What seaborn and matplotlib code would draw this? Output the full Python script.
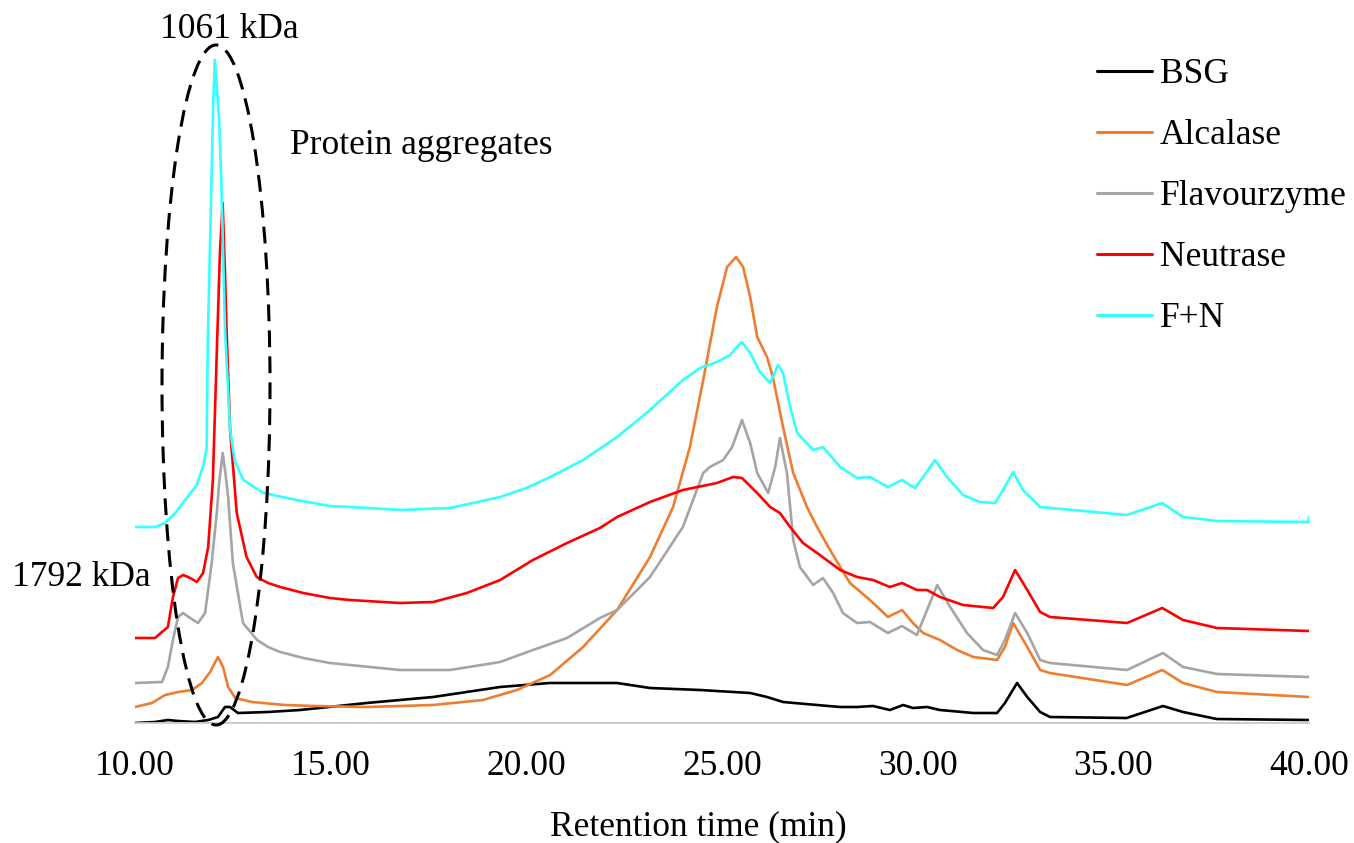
import numpy as np
import pandas as pd
import matplotlib
matplotlib.use("Agg")
import matplotlib.pyplot as plt
from matplotlib.patches import Ellipse
import seaborn as sns

# ---------------- data ----------------
samples = ["BSG", "Alcalase", "Flavourzyme", "Neutrase", "F+N"]
colors = ["#000000", "#ED7D31", "#A5A5A5", "#FF0000", "#33FFFF"]

bsg_time = [10.00, 10.51, 10.84, 11.10, 11.53, 11.87, 12.12, 12.30, 12.43, 12.63,
            13.40, 14.22, 15.92, 17.62, 19.33, 20.60, 21.88, 22.32, 23.16, 24.44,
            25.72, 26.15, 26.56, 27.43, 28.02, 28.44, 28.86, 29.29, 29.63, 29.88,
            30.24, 30.57, 31.42, 32.03, 32.23, 32.54, 32.80, 33.13, 33.38, 35.34,
            36.27, 36.78, 37.64, 39.98]
bsg_signal = [0, 1, 3, 2, 1, 3, 6, 16, 16, 10,
              11, 13, 20, 26, 36, 40, 40, 40, 35, 33,
              30, 26, 21, 18, 16, 16, 17, 13, 18, 15,
              16, 13, 10, 10, 20, 40, 26, 11, 6, 5,
              17, 11, 4, 3]

alcalase_time = [10.00, 10.43, 10.77, 11.10, 11.46, 11.71, 11.92, 12.12, 12.25, 12.38,
                 12.56, 12.99, 13.83, 14.60, 15.93, 17.62, 18.89, 19.76, 20.61, 21.45,
                 22.32, 23.16, 23.75, 24.18, 24.52, 24.87, 25.13, 25.36, 25.54, 25.72,
                 25.90, 26.15, 26.30, 26.56, 26.82, 27.17, 27.43, 27.76, 28.27, 28.78,
                 29.24, 29.60, 29.88, 30.14, 30.57, 31.01, 31.42, 32.03, 32.23, 32.44,
                 32.80, 33.13, 33.38, 35.35, 36.25, 36.78, 37.65, 40.00]
alcalase_signal = [16, 20, 28, 31, 33, 40, 51, 66, 56, 36,
                   25, 21, 18, 17, 16, 18, 23, 33, 48, 76,
                   113, 166, 216, 276, 343, 416, 456, 466, 456, 426,
                   386, 366, 346, 296, 250, 216, 196, 173, 140, 123,
                   106, 113, 100, 90, 83, 73, 66, 63, 76, 100,
                   76, 53, 50, 38, 53, 40, 31, 26]

flavourzyme_time = [10.00, 10.69, 10.84, 10.97, 11.10, 11.23, 11.41, 11.61, 11.79, 11.96,
                    12.09, 12.15, 12.24, 12.31, 12.38, 12.50, 12.76, 13.12, 13.40, 13.71,
                    14.30, 14.98, 16.77, 18.05, 19.33, 20.17, 21.04, 21.88, 22.32, 23.16,
                    24.00, 24.52, 24.69, 25.03, 25.26, 25.51, 25.72, 25.90, 26.18, 26.36,
                    26.48, 26.66, 26.82, 26.99, 27.33, 27.58, 27.84, 28.09, 28.45, 28.78,
                    29.24, 29.60, 29.98, 30.24, 30.50, 30.83, 31.26, 31.67, 32.03, 32.23,
                    32.49, 32.80, 33.13, 33.38, 35.35, 36.27, 36.78, 37.65, 40.00]
flavourzyme_signal = [40, 41, 56, 83, 106, 110, 105, 100, 110, 160,
                      210, 240, 270, 250, 226, 160, 100, 83, 76, 71,
                      65, 60, 53, 53, 61, 73, 85, 105, 113, 146,
                      196, 250, 256, 263, 276, 303, 280, 250, 230, 256,
                      285, 250, 183, 156, 138, 145, 130, 110, 100, 101,
                      90, 97, 88, 113, 138, 116, 90, 73, 68, 83,
                      110, 90, 63, 60, 53, 70, 56, 49, 46]

neutrase_time = [10.00, 10.51, 10.84, 10.97, 11.10, 11.23, 11.41, 11.58, 11.74, 11.87,
                 11.99, 12.10, 12.17, 12.24, 12.30, 12.34, 12.43, 12.60, 12.85, 13.11,
                 13.40, 13.71, 14.30, 14.98, 15.49, 16.77, 17.62, 18.48, 19.33, 20.17,
                 21.04, 21.88, 22.32, 23.16, 24.00, 24.87, 25.28, 25.51, 25.90, 26.23,
                 26.48, 26.74, 27.07, 27.43, 28.02, 28.45, 28.86, 29.29, 29.60, 29.98,
                 30.24, 30.57, 31.16, 31.93, 32.18, 32.49, 32.80, 33.13, 33.38, 35.35,
                 36.25, 36.78, 37.65, 40.00]
neutrase_signal = [85, 85, 96, 126, 145, 148, 145, 141, 150, 176,
                   243, 383, 470, 520, 450, 393, 293, 210, 166, 146,
                   140, 136, 130, 125, 123, 120, 121, 130, 143, 163,
                   180, 195, 206, 221, 233, 240, 246, 245, 230, 216,
                   210, 196, 180, 170, 153, 146, 143, 136, 140, 133,
                   133, 126, 118, 115, 126, 153, 133, 111, 106, 100,
                   115, 103, 95, 92]

fn_time = [10.00, 10.51, 10.77, 11.03, 11.28, 11.58, 11.75, 11.83, 11.86, 11.95,
           12.00, 12.04, 12.15, 12.21, 12.30, 12.43, 12.55, 12.77, 13.28, 14.13,
           14.98, 16.00, 16.77, 18.05, 19.33, 20.00, 20.61, 21.45, 22.32, 23.16,
           24.00, 24.44, 24.87, 25.21, 25.38, 25.51, 25.72, 25.97, 26.23, 26.43,
           26.56, 26.74, 26.92, 27.33, 27.58, 28.02, 28.45, 28.78, 29.24, 29.60,
           29.93, 30.14, 30.44, 30.75, 31.16, 31.59, 31.98, 32.18, 32.44, 32.69,
           33.13, 35.35, 36.25, 36.78, 37.65, 39.98, 40.00]
fn_signal = [196, 196, 200, 210, 223, 238, 258, 275, 383, 536,
             620, 663, 603, 536, 393, 293, 262, 243, 230, 223,
             217, 215, 213, 215, 226, 235, 246, 263, 286, 313,
             343, 355, 361, 368, 376, 381, 370, 351, 340, 358,
             350, 316, 290, 273, 276, 256, 245, 246, 236, 243,
             235, 246, 263, 246, 228, 221, 220, 233, 251, 233,
             216, 208, 220, 206, 202, 201, 206]

x_ticks = [10, 15, 20, 25, 30, 35, 40]
x_label = "Retention time (min)"
annotations = ["1061 kDa", "Protein aggregates", "1792 kDa"]

# ---------------- build long-form table ----------------
series = {
    "BSG": (bsg_time, bsg_signal),
    "Alcalase": (alcalase_time, alcalase_signal),
    "Flavourzyme": (flavourzyme_time, flavourzyme_signal),
    "Neutrase": (neutrase_time, neutrase_signal),
    "F+N": (fn_time, fn_signal),
}
frames = []
for name, (t, s) in series.items():
    frames.append(pd.DataFrame({"time": t, "signal": s, "sample": name}))
df = pd.concat(frames, ignore_index=True)

# ---------------- plot ----------------
sns.set_style("white")
plt.rcParams["font.family"] = ["Liberation Serif", "DejaVu Serif"]
plt.rcParams["text.color"] = "black"
plt.rcParams["xtick.color"] = "black"
plt.rcParams["axes.labelcolor"] = "black"
FS = 25.5

W, H = 1354, 843
fig = plt.figure(figsize=(W / 100, H / 100), dpi=100)
ax = fig.add_axes([135 / W, 1 - 723 / H, 1174 / W, 700 / H])

sns.lineplot(data=df, x="time", y="signal", hue="sample", hue_order=samples,
             palette=dict(zip(samples, colors)), estimator=None, sort=True,
             linewidth=1.9, ax=ax, legend=True)

ax.set_xlim(10, 40)
ax.set_ylim(0, 700)

for side in ["top", "right", "left"]:
    ax.spines[side].set_visible(False)
ax.spines["bottom"].set_color("#C8C8C8")
ax.spines["bottom"].set_linewidth(1.3)
ax.set_yticks([])
ax.set_ylabel("")
ax.set_xticks(x_ticks)
ax.set_xticklabels([f"{v:.2f}" for v in x_ticks], fontsize=FS, color="black")
ax.tick_params(axis="x", length=0, pad=19.5)
ax.set_xlabel(x_label, fontsize=FS, color="black")
ax.xaxis.set_label_coords(0.480, -(827 - 723) / 700)
ax.xaxis.label.set_verticalalignment("center")

# dashed ellipse around aggregate peaks
ell = Ellipse((12.07, 338), 2.76, 680, fill=False, edgecolor="black",
              linewidth=2.2, linestyle=(0, (5.5, 3.0)), clip_on=False, zorder=5)
ax.add_patch(ell)

ax.text(12.40, 694, annotations[0], fontsize=FS, ha="center", va="center")
ax.text(13.96, 578, annotations[1], fontsize=FS, ha="left", va="center")
ax.text(6.86, 145, annotations[2], fontsize=FS, ha="left", va="center",
        clip_on=False)

handles, labels = ax.get_legend_handles_labels()
leg = ax.legend(handles, labels, loc="upper left",
                bbox_to_anchor=(1097 / W, 1 - 58 / H), bbox_transform=fig.transFigure,
                frameon=False, fontsize=FS, borderpad=0, borderaxespad=0,
                handlelength=1.55, handletextpad=0.23, labelspacing=0.79)
for line in leg.get_lines():
    line.set_linewidth(2.2)
for txt in leg.get_texts():
    txt.set_color("black")

fig.savefig("out.png", dpi=100)
